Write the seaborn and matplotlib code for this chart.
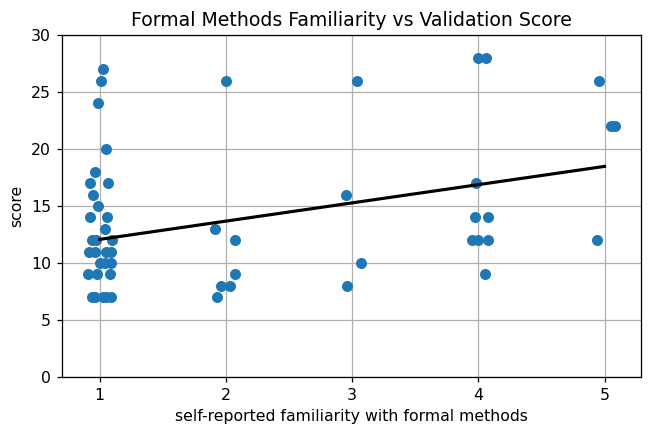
import numpy as np
import pandas as pd
import seaborn as sns
import matplotlib.pyplot as plt

# familiarity (with jitter, as plotted) and score
familiarity = [
    1.03, 1.01, 0.99, 1.05, 0.96, 0.92, 1.07, 0.95, 0.99, 0.92, 1.06, 1.04,
    0.94, 0.97, 1.10,
    0.915, 0.96, 1.05, 1.09,
    1.00, 1.04, 1.09,
    0.91, 0.98, 1.08,
    0.94, 0.96, 1.03, 1.05, 1.09,
    2.00, 1.915, 2.07, 2.07, 1.96, 2.03, 1.93,
    3.04, 2.95, 3.07, 2.96,
    4.00, 4.06, 3.98, 3.97, 4.08, 3.95, 4.00, 4.08, 4.05,
    4.96, 5.05, 5.08, 4.94,
]
score = [
    27, 26, 24, 20, 18, 17, 17, 16, 15, 14, 14, 13,
    12, 12, 12,
    11, 11, 11, 11,
    10, 10, 10,
    9, 9, 9,
    7, 7, 7, 7, 7,
    26, 13, 12, 9, 8, 8, 7,
    26, 16, 10, 8,
    28, 28, 17, 14, 14, 12, 12, 12, 9,
    26, 22, 22, 12,
]

# trend line
trend_slope = 1.6
trend_intercept = 10.47

df = pd.DataFrame({"familiarity": familiarity, "score": score})
df["level"] = df["familiarity"].round()

fig, ax = plt.subplots(figsize=(5.77, 3.77), dpi=113)
sns.scatterplot(data=df, x="familiarity", y="score", color="#1f77b4",
                s=36, linewidth=1, edgecolor="#1f77b4", ax=ax)
levels = np.sort(df["level"].unique())
ax.plot(levels, trend_slope * levels + trend_intercept, color="black", linewidth=2)

ax.set_ylim(0, 30)
ax.grid(True)
ax.set_axisbelow(True)
ax.set_title("Formal Methods Familiarity vs Validation Score")
ax.set_xlabel("self-reported familiarity with formal methods")
ax.set_ylabel("score")
fig.subplots_adjust(left=0.095, right=0.983, top=0.918, bottom=0.115)
fig.savefig("out.png", dpi=113)
